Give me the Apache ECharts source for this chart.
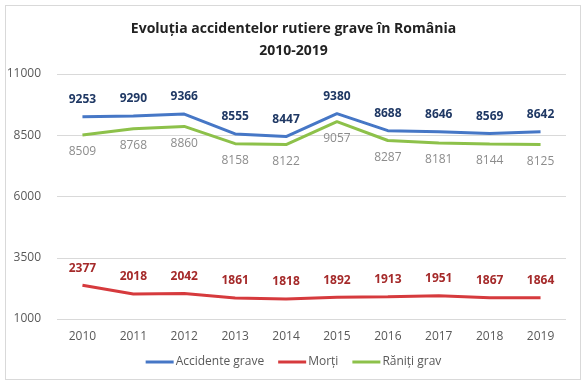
<!DOCTYPE html>
<html><head><meta charset="utf-8">
<script src="https://cdn.jsdelivr.net/npm/echarts@6/dist/echarts.min.js"></script>
<style>
html,body{margin:0;padding:0;background:#fff;}
#wrap{position:absolute;left:5px;top:5px;width:576px;height:375px;border:1px solid #d9d9d9;box-sizing:border-box;}
#c{position:absolute;left:0;top:0;width:587px;height:386px;}
</style></head>
<body><div id="wrap"></div><div id="c"></div>
<script>
const years = ['2010','2011','2012','2013','2014','2015','2016','2017','2018','2019'];
const accidente = [9253,9290,9366,8555,8447,9380,8688,8646,8569,8642];
const morti = [2377,2018,2042,1861,1818,1892,1913,1951,1867,1864];
const raniti = [8509,8768,8860,8158,8122,9057,8287,8181,8144,8125];
const yTicks = {min:1000, max:11000, interval:2500};

const font = '"Open Sans", "Liberation Sans", sans-serif';
const chart = echarts.init(document.getElementById('c'));
function ser(name, data, color, pos, lblColor, bold){
  return {name, type:'line', data, symbol:'circle', symbolSize:0, showSymbol:true, smooth:false,
    lineStyle:{width:3, color}, itemStyle:{color},
    labelLayout:{hideOverlap:false},
    label:{show:true, position:pos, distance:11, color:lblColor, fontWeight:bold?'bold':'normal',
      fontSize:12, fontFamily:font}};
}
chart.setOption({
  animation:false,
  title:{text:'Evoluția accidentelor rutiere grave în România\n2010-2019', left:'center', top:13,
    textStyle:{fontSize:14, fontWeight:'bold', color:'#222', fontFamily:font, lineHeight:22}},
  grid:{left:57, right:21, top:74, bottom:67},
  legend:{bottom:13, left:'center', itemWidth:28, itemHeight:3, itemGap:14,
    icon:'rect',
    textStyle:{fontSize:12, color:'#595959', fontFamily:font, padding:[0,0,0,-3]},
    data:['Accidente grave','Morți','Răniți grav']},
  xAxis:{type:'category', data:years, boundaryGap:true,
    axisLine:{show:false}, axisTick:{show:false},
    axisLabel:{color:'#595959', fontSize:12, fontFamily:font, margin:12}},
  yAxis:{type:'value', min:yTicks.min, max:yTicks.max, interval:yTicks.interval,
    axisLine:{show:false}, axisTick:{show:false},
    axisLabel:{color:'#595959', fontSize:12, fontFamily:font, margin:16, formatter:v=>String(v)},
    splitLine:{lineStyle:{color:'#d9d9d9', width:1}}},
  series:[
    ser('Accidente grave', accidente, '#4677c6', 'top', '#1f3864', true),
    ser('Morți', morti, '#d63a3d', 'top', '#a52a2a', true),
    ser('Răniți grav', raniti, '#8dc14a', 'bottom', '#8c8c8c', false)
  ]
});
</script></body></html>
